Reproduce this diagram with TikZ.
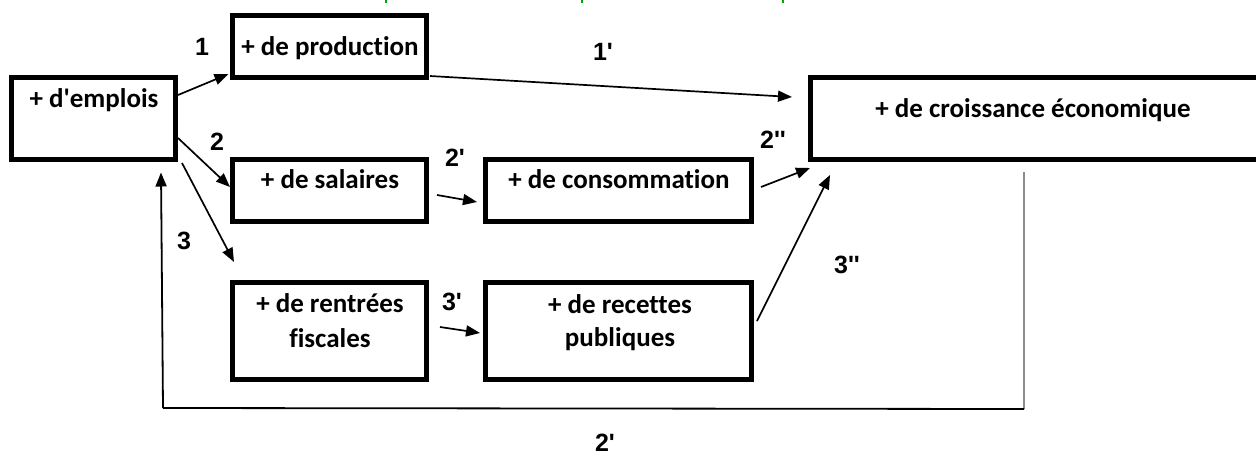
\documentclass[tikz,border=0pt]{standalone}
\usepackage{fontspec}
\setmainfont{Carlito}
\newfontfamily\boxfont{Carlito}[Ligatures=NoCommon]
\newfontfamily\labfont{Liberation Sans}
\usetikzlibrary{arrows.meta}
\tikzset{
  box/.style={draw=black, line width=5pt, outer sep=0pt, inner sep=0pt, rectangle},
  boxtext/.style={anchor=base, inner sep=0pt, font=\boxfont\bfseries\fontsize{27}{30}\selectfont},
  numlab/.style={inner sep=0pt, font=\labfont\bfseries\fontsize{25}{28}\selectfont},
  arr/.style={line width=1.7pt, -{Triangle[length=14pt,width=11pt]}},
  fbline/.style={line width=1.8pt},
  fbgray/.style={line width=1.5pt, draw=black!45},
  frag/.style={line width=1.5pt, draw=green!65!black}
}
\begin{document}
\begin{tikzpicture}[x=1pt,y=-1pt]
\useasboundingbox (0,0) rectangle (1256,456);
\fill[white] (0,0) rectangle (1256,456);
\begin{scope}
\clip (0,0) rectangle (1256,456);
% boxes
\node[box, minimum width=164pt, minimum height=82pt] (emp) at (93.5,118.5) {};
\node[box, minimum width=194pt, minimum height=62pt] (prod) at (329.5,46.5) {};
\node[box, minimum width=194pt, minimum height=62pt] (sal) at (329.5,190.5) {};
\node[box, minimum width=266pt, minimum height=62pt] (cons) at (618.5,190.5) {};
\node[box, minimum width=457pt, minimum height=82pt] (croi) at (1039,118.5) {};
\node[box, minimum width=194pt, minimum height=97pt] (rent) at (329.5,331) {};
\node[box, minimum width=266pt, minimum height=97pt] (rec) at (618.5,331) {};
% box texts
\node[boxtext] (tEmp) at (94,107) {+ d'emplois};
\node[boxtext] (tProd) at (330,55) {+ de production};
\node[boxtext] (tSal) at (330,188) {+ de salaires};
\node[boxtext] (tCons) at (619,188) {+ de consommation};
\node[boxtext] (tCroi) at (1033,117) {+ de croissance économique};
\node[boxtext] (tRent1) at (330,312) {+ de rentrées};
\node[boxtext] (tRent2) at (330,347) {fiscales};
\node[boxtext] (tRec1) at (620,313) {+ de recettes};
\node[boxtext] (tRec2) at (620,346) {publiques};
% arrows
\draw[arr] ([shift={(2.5,17.5)}]emp.north east) -- ([shift={(-4,-3.5)}]prod.south west);
\draw[arr] ([shift={(2.5,-21.5)}]emp.south east) -- ([shift={(-2.5,-3.5)}]sal.west);
\draw[arr] ([shift={(6.5,3.5)}]emp.south east) -- ([shift={(1.5,-20.5)}]rent.north west);
\draw[arr] ([shift={(3.5,-1.5)}]prod.south east) -- ([shift={(-18.5,-21.5)}]croi.west);
\draw[arr] ([shift={(10.5,4.5)}]sal.east) -- ([shift={(-8.5,11.5)}]cons.west);
\draw[arr] ([shift={(9.5,-3.5)}]cons.east) -- ([shift={(-0.5,8.5)}]croi.south west);
\draw[arr] ([shift={(13.5,-4)}]rent.east) -- ([shift={(-5.5,2)}]rec.west);
\draw[arr] ([shift={(5.5,-10)}]rec.east) -- ([shift={(19.5,15.5)}]croi.south west);
% feedback loop
\coordinate (fbA) at ([shift={(213.5,12.5)}]croi.south west);
\coordinate (fbB) at ([shift={(213.5,249.5)}]croi.south west);
\coordinate (fbC) at ([shift={(151.5,248.5)}]emp.south west);
\coordinate (fbT) at ([shift={(149.5,13)}]emp.south west);
\draw[fbgray] (fbA) -- (fbB);
\draw[fbline] (fbB) -- (fbC);
\draw[fbline, -{Triangle[length=14pt,width=11pt]}] (fbC) -- (fbT);
% labels
\node[numlab] (l1) at (202,47) {1};
\node[numlab] (l2) at (217,142) {2};
\node[numlab] (l3) at (184,241) {3};
\node[numlab] (l1p) at (603,52) {1'};
\node[numlab] (l2p) at (455,158) {2'};
\node[numlab] (l2pp) at (773,140) {2''};
\node[numlab] (l3p) at (452,302) {3'};
\node[numlab] (l3pp) at (847,265) {3''};
\node[numlab] (l2pb) at (605,443) {2'};
% cut-off green fragments at top
\draw[frag] (386,0) -- (386,3);
\draw[frag] (582,0) -- (582,3);
\draw[frag] (783,0) -- (783,3);
\end{scope}
\end{tikzpicture}
\end{document}
